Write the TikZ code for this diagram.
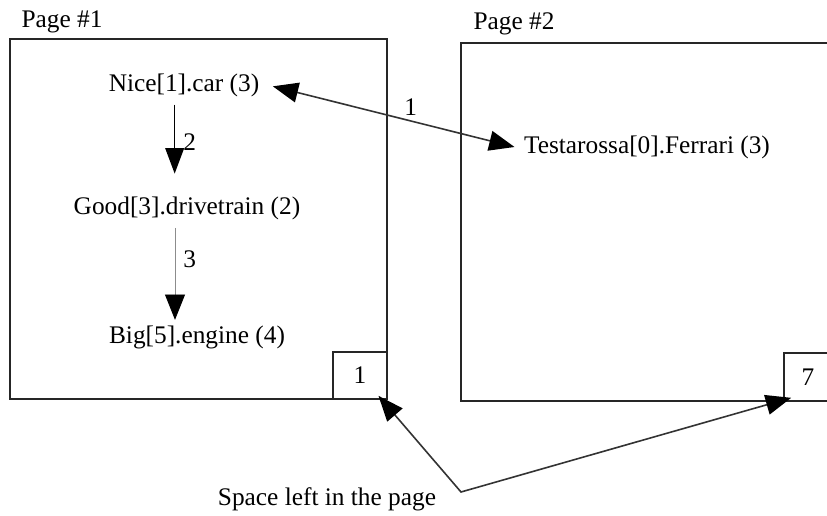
\documentclass[tikz,border=0pt]{standalone}
\usepackage{fontspec}
\setmainfont{Liberation Serif}
\usetikzlibrary{arrows.meta,calc}
\begin{document}
\begin{tikzpicture}[x=0.75pt,y=-0.75pt,
  every node/.style={font=\fontsize{19pt}{22pt}\selectfont},
  lbl/.style={inner sep=6pt},
  pageline/.style={line width=1.2pt,draw=black!85},
  freebox/.style={draw=black!85,line width=1.2pt,inner sep=0pt},
  biarr/.style={line width=1.2pt,draw=black!80,
    arrows={Triangle[length=19pt,width=15pt,color=black]-Triangle[length=19pt,width=15pt,color=black]}}
]
\useasboundingbox (0,0) rectangle (827,516);

% page frames
\draw[pageline] (10,39) rectangle (387,399);
\draw[pageline] (834,43) -- (461,43) -- (461,401) -- (834,401);

% page titles
\node (title1) at (62,22) {Page \#1};
\node (title2) at (514,24) {Page \#2};

% free space boxes
\node[freebox,minimum width=40.5pt,minimum height=35.25pt] (free1) at (360,375.5) {1};
\node[freebox,minimum width=36pt,minimum height=36pt] (free7) at (808,377) {7};

% records
\node[lbl] (nice) at (184,85) {Nice[1].car (3)};
\node[lbl] (good) at (187,208) {Good[3].drivetrain (2)};
\node[lbl] (big) at (197,337) {Big[5].engine (4)};
\node[lbl] (testa) at (647,147) {Testarossa[0].Ferrari (3)};

% links between records
\draw[biarr] ([shift={(4pt,-1pt)}]nice.east) -- ([xshift=-1pt]testa.west) node[pos=0.57,above] {1};
\draw[line width=1pt,draw=black,
  arrows={-Triangle[length=19pt,width=14pt,color=black]},shorten >=11pt]
  ([xshift=-7pt]nice.south) -- ([xshift=-7pt]nice.south |- good.north)
  node[pos=0.45,right,inner sep=6pt] {2};
\draw[line width=0.6pt,draw=black!45,
  arrows={-Triangle[length=19pt,width=15pt,color=black]},shorten >=-2pt]
  ([xshift=-9pt]good.south) -- ([xshift=-9pt]good.south |- big.north)
  node[pos=0.35,right,inner sep=6pt] {3};

% free space legend
\node (space) at (327,499) {Space left in the page};
\coordinate (corner) at (461,492);
\draw[biarr] ([shift={(-7pt,3pt)}]free1.south east) -- (corner)
  -- ([shift={(6pt,3pt)}]free7.south west);
\end{tikzpicture}
\end{document}
